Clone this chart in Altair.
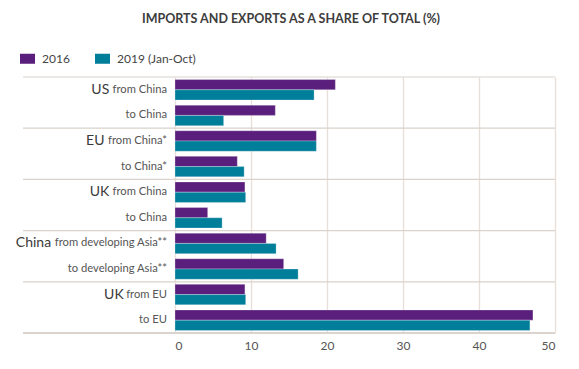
import altair as alt
import pandas as pd

# ---- data ----
row_ids = ["US from China", "US to China", "EU from China*", "EU to China*",
           "UK from China", "UK to China", "China from developing Asia**",
           "China to developing Asia**", "UK from EU", "UK to EU"]
prefixes = ["US", "", "EU", "", "UK", "", "China", "", "UK", ""]
suffixes = ["from China", "to China", "from China*", "to China*", "from China",
            "to China", "from developing Asia**", "to developing Asia**",
            "from EU", "to EU"]
values_2016 = [21.1, 13.2, 18.6, 8.2, 9.2, 4.3, 12.0, 14.3, 9.2, 47.1]
values_2019 = [18.3, 6.4, 18.6, 9.1, 9.3, 6.2, 13.3, 16.2, 9.3, 46.7]
series = ["2016", "2019 (Jan-Oct)"]
group_starts = ["US from China", "EU from China*", "UK from China",
                "China from developing Asia**", "UK from EU"]
x_ticks = [0, 10, 20, 30, 40, 50]

PURPLE = "#5a1f7c"
TEAL = "#007e9a"
FONT = "Lato"
SUF_SIZE = 11.2
PRE_SIZE = 14

# approximate Lato advance widths (em) to right-align two-part labels
W = {'a': .49, 'b': .56, 'c': .45, 'd': .56, 'e': .52, 'f': .33, 'g': .50,
     'h': .56, 'i': .24, 'l': .24, 'm': .84, 'n': .56, 'o': .55, 'p': .56,
     'r': .37, 's': .42, 't': .35, 'v': .50, 'y': .50, 'A': .67, 'C': .66,
     'E': .55, 'U': .70, 'K': .66, ' ': .19, '*': .42}


def text_w(s, size):
    return sum(W.get(ch, .55) for ch in s) * size


bars = pd.DataFrame({
    "row": row_ids * 2,
    "series": [series[0]] * len(row_ids) + [series[1]] * len(row_ids),
    "value": values_2016 + values_2019,
})
labels = pd.DataFrame({"row": row_ids, "prefix": prefixes, "suffix": suffixes})
labels["pdx"] = [-(8 + 1.02 * text_w(s, SUF_SIZE) + 3) for s in suffixes]
seps = pd.DataFrame({"row": group_starts})

yscale = alt.Scale(domain=row_ids, paddingInner=0, paddingOuter=0)

bar = alt.Chart(bars).mark_bar(stroke="#ffffff", strokeOpacity=0.35, strokeWidth=0.8).encode(
    y=alt.Y("row:N", scale=yscale, axis=None),
    x=alt.X("value:Q", scale=alt.Scale(domain=[0, 50], nice=False),
            axis=alt.Axis(values=x_ticks, title=None, domain=False, ticks=False,
                          grid=True, gridColor="#e8dfd8", gridWidth=1.3,
                          labelFont=FONT, labelFontSize=12, labelColor="#555555",
                          labelPadding=7)),
    yOffset=alt.YOffset("series:N", scale=alt.Scale(domain=series, paddingOuter=0.25, paddingInner=0)),
    color=alt.Color("series:N", scale=alt.Scale(domain=series, range=[PURPLE, TEAL]),
                    legend=alt.Legend(orient="none", legendX=-155, legendY=-26,
                                      direction="horizontal", title=None,
                                      symbolType="M-1,-0.667H1V0.667H-1Z", symbolSize=225,
                                      symbolStrokeWidth=0, labelFont=FONT, labelFontSize=12,
                                      labelColor="#444444", labelOffset=7, columnPadding=25)),
)

sep = alt.Chart(seps).mark_rule(color="#dad2cb", strokeWidth=1.2).encode(
    y=alt.Y("row:N", scale=yscale, bandPosition=0, axis=None),
    x=alt.value(-152), x2=alt.value(380),
)
bottom = alt.Chart(seps).mark_rule(color="#dad2cb", strokeWidth=1.2).encode(
    y=alt.value(256), x=alt.value(-152), x2=alt.value(380),
)

suf = alt.Chart(labels).mark_text(align="right", baseline="middle", font=FONT,
                                  fontSize=SUF_SIZE, color="#555555").encode(
    y=alt.Y("row:N", scale=yscale, bandPosition=0.5, axis=None),
    x=alt.value(-8), text="suffix:N",
)
pre = alt.Chart(labels).mark_text(align="right", baseline="middle", font=FONT,
                                  fontSize=PRE_SIZE, color="#3a3a3a").encode(
    y=alt.Y("row:N", scale=yscale, bandPosition=0.5, axis=None),
    x=alt.value(0), xOffset=alt.XOffset("pdx:Q", scale=None), text="prefix:N",
)

chart = alt.layer(sep, bottom, bar, suf, pre).properties(
    width=380, height=256,
    autosize="none",
    padding={"left": 167, "top": 69, "right": 16, "bottom": 28},
    title=alt.TitleParams("IMPORTS AND EXPORTS AS A SHARE OF TOTAL (%)", anchor="middle",
                          frame="group", dx=-74, offset=26, font=FONT, fontSize=12.5,
                          fontWeight="bold", color="#3d3d3d"),
).configure_view(stroke=None)

chart.save("out.html", embed_options={"renderer": "svg", "actions": False})
